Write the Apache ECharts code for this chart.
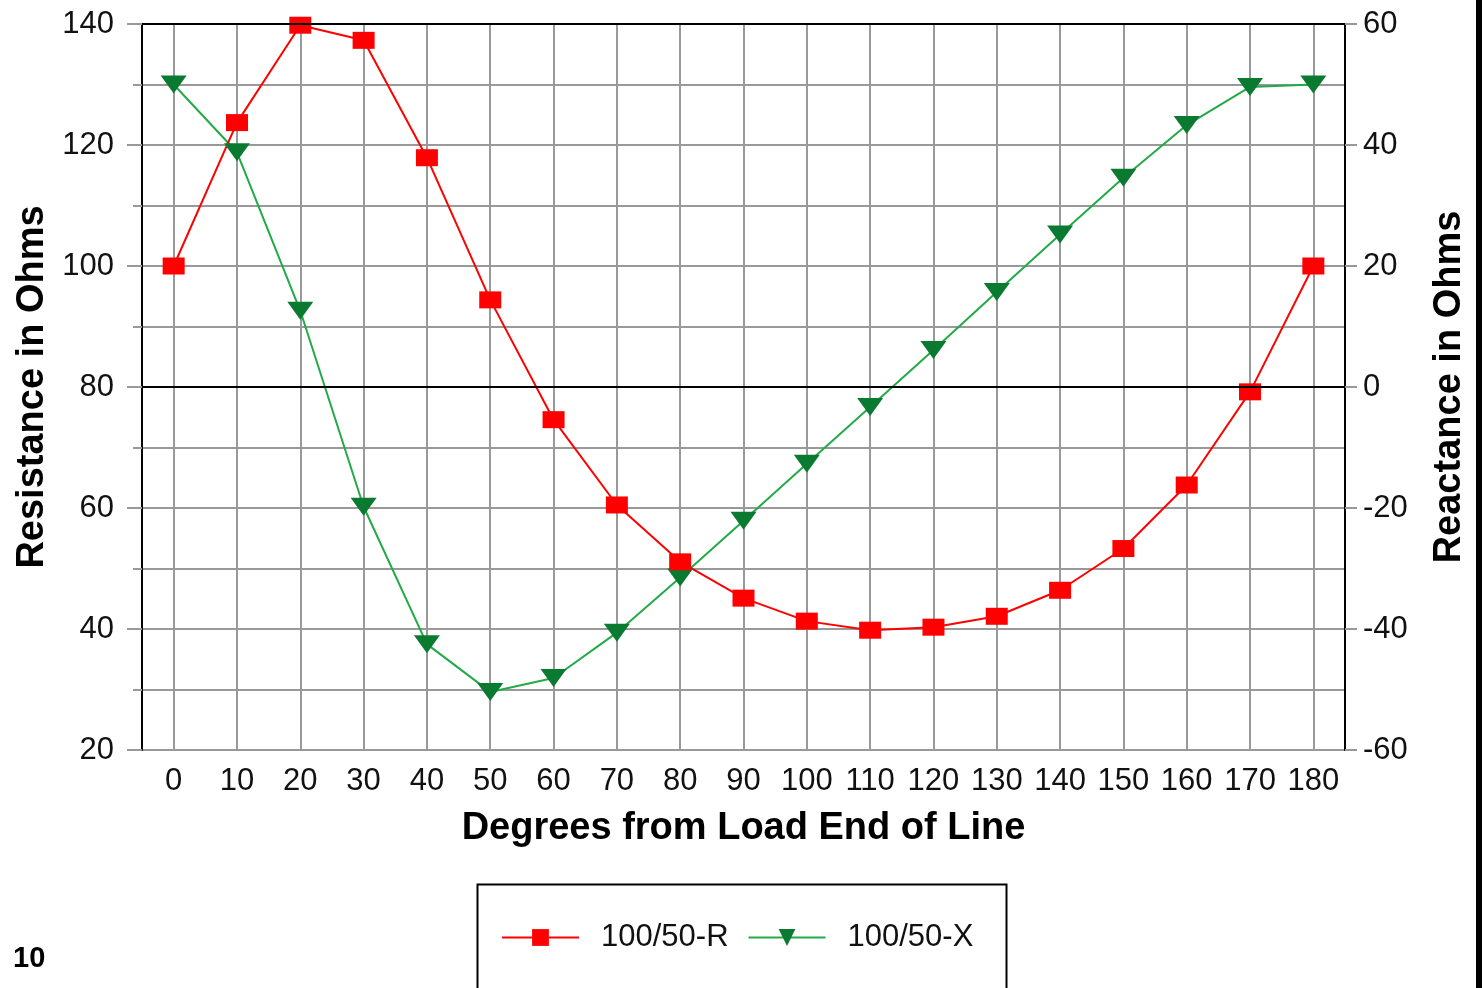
<!DOCTYPE html>
<html>
<head>
<meta charset="utf-8">
<style>
  html, body { margin: 0; padding: 0; background: #fff; }
  #chart { width: 1482px; height: 988px; }
</style>
<script src="https://cdn.jsdelivr.net/npm/echarts@6/dist/echarts.min.js"></script>
</head>
<body>
<div id="chart"></div>
<script>
// Degrees along the line from the load end
const degrees = ['0', '10', '20', '30', '40', '50', '60', '70', '80', '90',
  '100', '110', '120', '130', '140', '150', '160', '170', '180'];
// Resistance (ohms), left axis
const resistance = [100, 123.7, 139.8, 137.3, 117.9, 94.4, 74.6, 60.5, 51.1, 45.1,
  41.3, 39.8, 40.3, 42.1, 46.4, 53.3, 63.8, 79.2, 100];
// Reactance (ohms), right axis
const reactance = [50, 38.8, 12.6, -19.8, -42.5, -50.4, -48.1, -40.6, -31.5, -22.1,
  -12.7, -3.3, 6.1, 15.7, 25.2, 34.6, 43.3, 49.6, 50.0];
const seriesNames = ['100/50-R', '100/50-X'];

const tickFont = '"Liberation Sans Narrow", "Liberation Sans", Arial, sans-serif';
const titleFont = '"Liberation Sans", Arial, sans-serif';
const gridGray = '#999999';
const tickSize = 31;

const chart = echarts.init(document.getElementById('chart'));
chart.setOption({
  animation: false,
  backgroundColor: '#ffffff',
  grid: { left: 142, right: 137, top: 24, bottom: 238, containLabel: false },
  xAxis: {
    type: 'category',
    data: degrees,
    boundaryGap: true,
    name: 'Degrees from Load End of Line',
    nameLocation: 'middle',
    nameGap: 60,
    nameTextStyle: { fontFamily: titleFont, fontWeight: 'bold', fontSize: 38, color: '#000' },
    axisLine: { show: true, lineStyle: { color: '#000', width: 2 } },
    axisTick: { show: true, alignWithLabel: true, length: 11, lineStyle: { color: gridGray, width: 2 } },
    axisLabel: { fontFamily: tickFont, fontSize: tickSize, color: '#111', margin: 16, interval: 0 },
    splitLine: { show: true, alignWithLabel: true, lineStyle: { color: gridGray, width: 2 } }
  },
  yAxis: [
    {
      type: 'value',
      position: 'left',
      min: 20, max: 140, interval: 20,
      name: 'Resistance in Ohms',
      nameLocation: 'middle',
      nameRotate: 90,
      nameGap: 90,
      nameTextStyle: { fontFamily: titleFont, fontWeight: 'bold', fontSize: 38, color: '#000' },
      axisLine: { show: true, lineStyle: { color: '#000', width: 2 } },
      axisTick: { show: true, length: 15, lineStyle: { color: gridGray, width: 2 } },
      minorTick: { show: true, splitNumber: 2, length: 9, lineStyle: { color: gridGray, width: 2 } },
      axisLabel: { fontFamily: tickFont, fontSize: tickSize, color: '#111', margin: 28 },
      splitLine: { show: true, lineStyle: { color: gridGray, width: 2 } },
      minorSplitLine: { show: true, lineStyle: { color: gridGray, width: 2 } }
    },
    {
      type: 'value',
      position: 'right',
      min: -60, max: 60, interval: 20,
      name: 'Reactance in Ohms',
      nameLocation: 'middle',
      nameRotate: 90,
      nameGap: 86,
      nameTextStyle: { fontFamily: titleFont, fontWeight: 'bold', fontSize: 38, color: '#000' },
      axisLine: { show: true, lineStyle: { color: '#000', width: 2 } },
      axisTick: { show: true, length: 12, lineStyle: { color: gridGray, width: 2 } },
      axisLabel: { fontFamily: tickFont, fontSize: tickSize, color: '#111', margin: 18 },
      splitLine: { show: false }
    }
  ],
  legend: {
    data: seriesNames,
    left: 496,
    top: 917,
    itemWidth: 77,
    itemHeight: 21,
    itemGap: 19,
    textStyle: { fontFamily: tickFont, fontSize: tickSize, color: '#111', padding: [0, 0, 0, 17] }
  },
  graphic: [
    { type: 'rect', left: 475, top: 882, shape: { width: 529, height: 130 },
      style: { fill: 'none', stroke: '#000', lineWidth: 2 } },
    { type: 'rect', left: 1476, top: 0, shape: { width: 6, height: 988 },
      style: { fill: '#000' } },
    { type: 'text', left: 13, top: 944,
      style: { text: '10', fontFamily: titleFont, fontWeight: 'bold', fontSize: 29, fill: '#000' } }
  ],
  series: [
    {
      name: seriesNames[1],
      type: 'line',
      yAxisIndex: 1,
      data: reactance,
      symbol: 'triangle',
      symbolRotate: 180,
      symbolSize: [26, 18],
      lineStyle: { color: '#22aa48', width: 2 },
      itemStyle: { color: '#0a7a30' },
      markLine: {
        silent: true,
        symbol: 'none',
        label: { show: false },
        lineStyle: { color: '#000', width: 2, type: 'solid' },
        data: [{ yAxis: 0 }, { yAxis: 60 }]
      }
    },
    {
      name: seriesNames[0],
      type: 'line',
      yAxisIndex: 0,
      data: resistance,
      symbol: 'rect',
      symbolSize: [22, 17],
      lineStyle: { color: '#ff0000', width: 2 },
      itemStyle: { color: '#ff0000' }
    }
  ]
});
</script>
</body>
</html>
